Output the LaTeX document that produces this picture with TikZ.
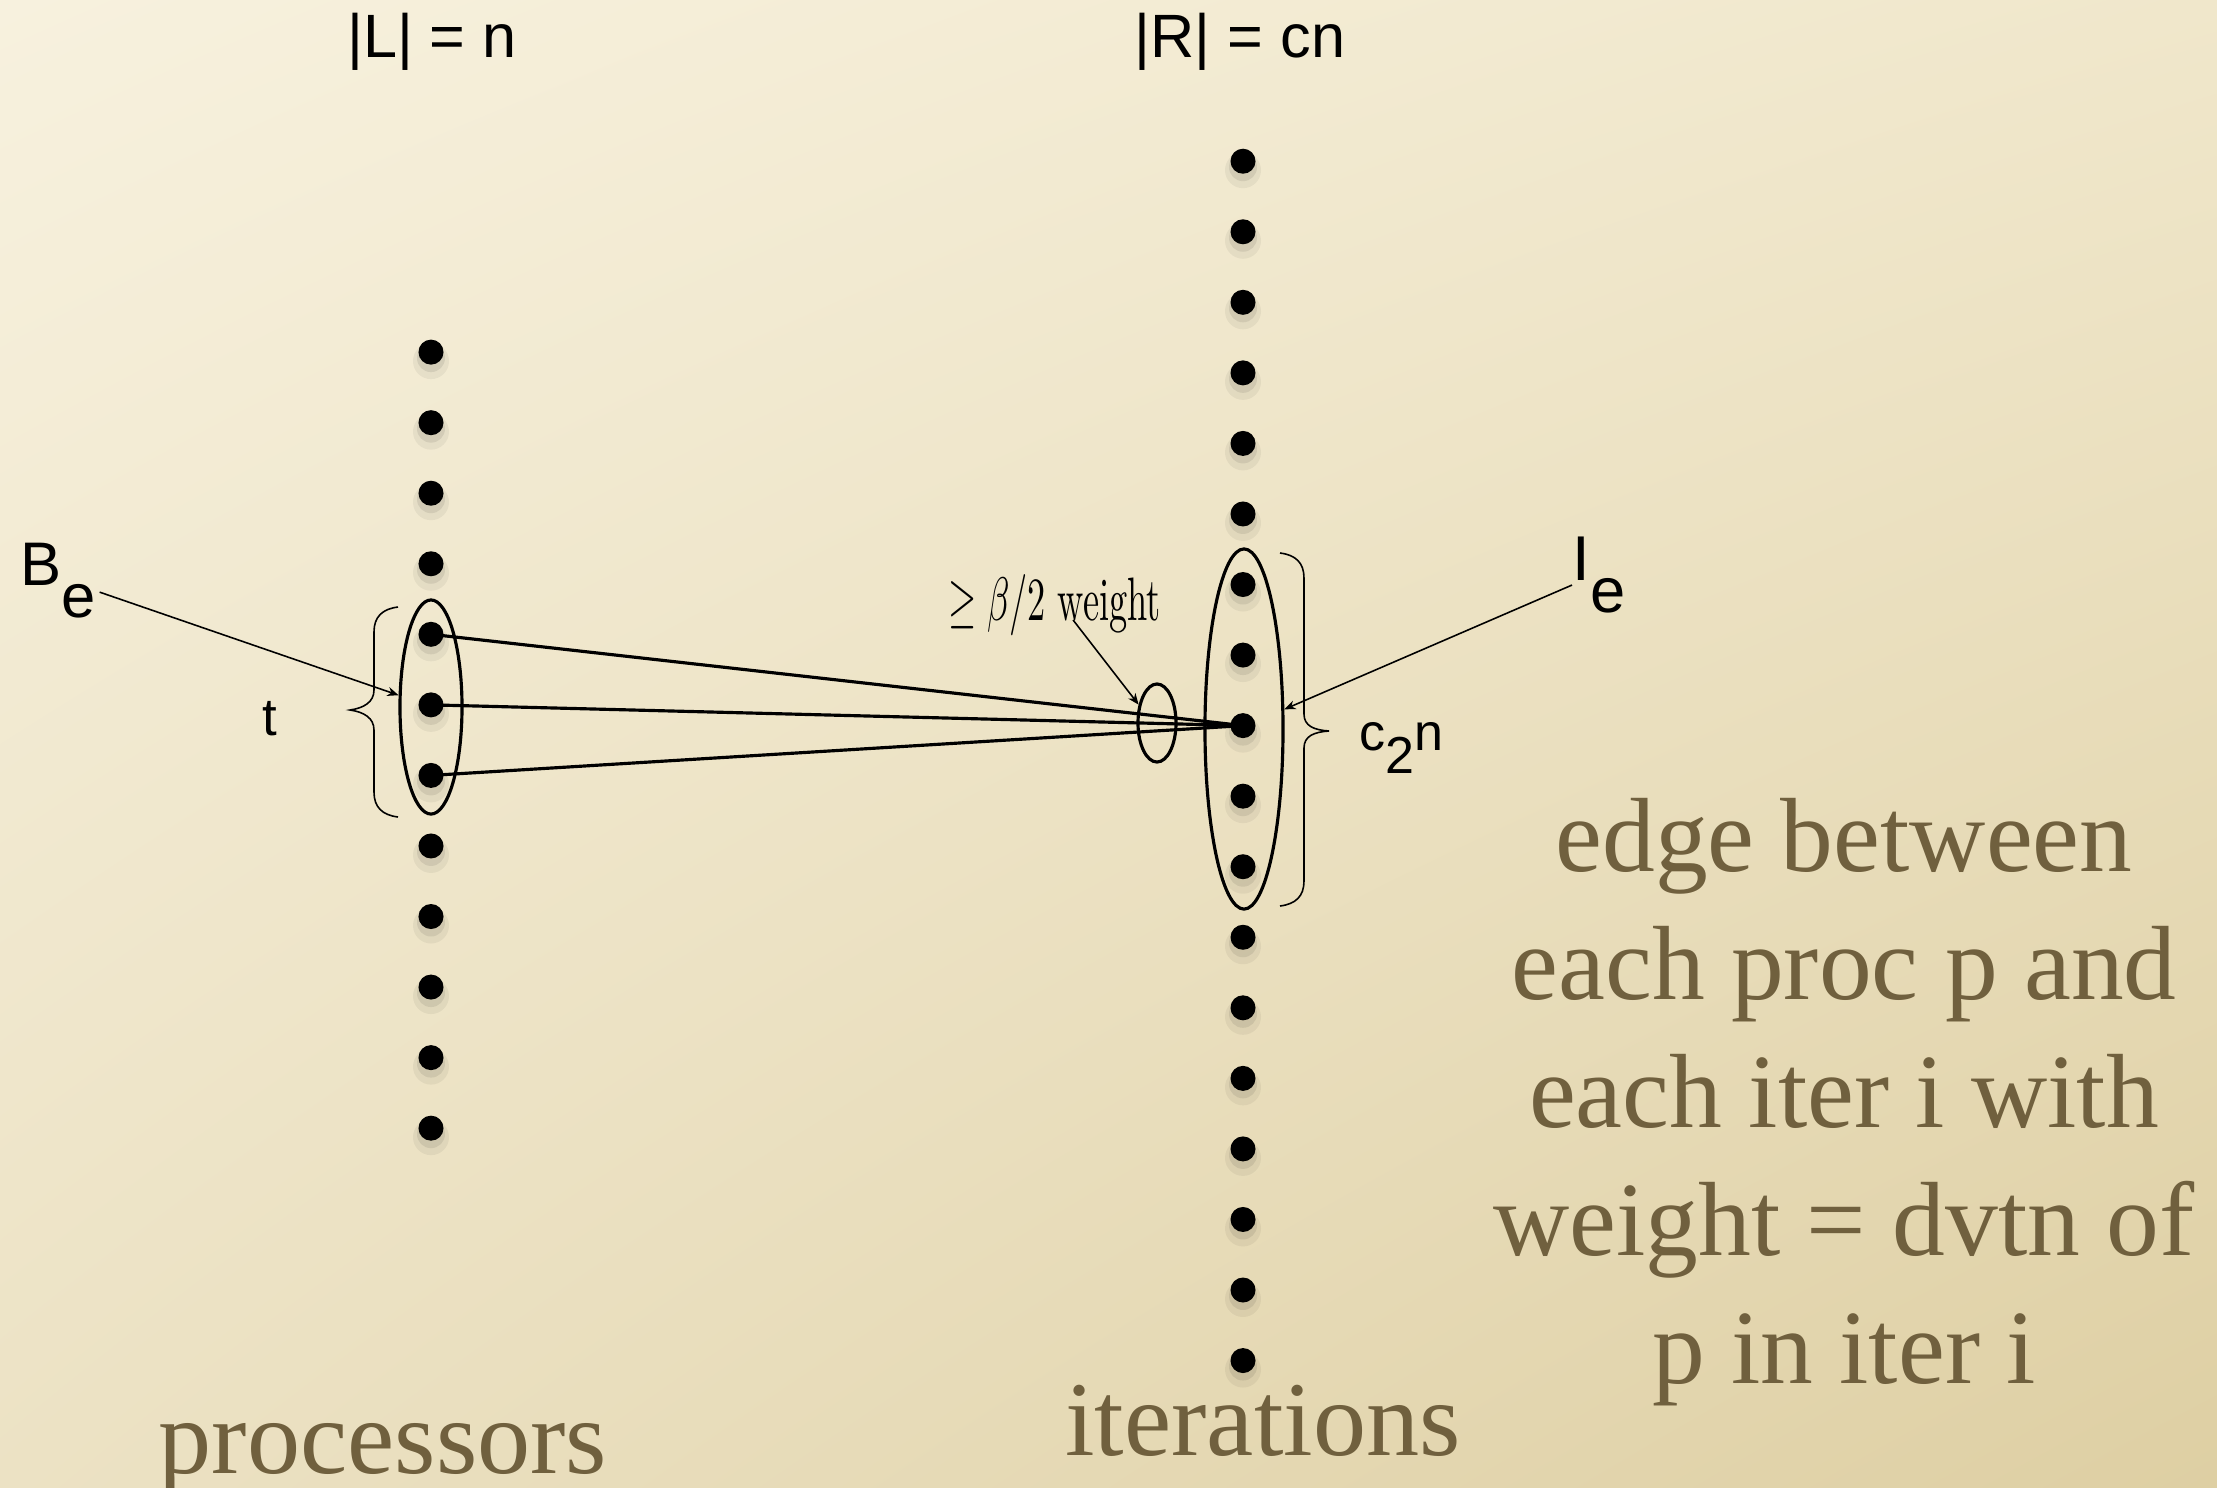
\documentclass[tikz,border=0pt]{standalone}
\usepackage{fontspec}
\usepackage{graphicx}
\newfontfamily\helv{Liberation Sans}
\newfontfamily\serifx{Liberation Serif}
\usetikzlibrary{arrows.meta,shapes.geometric,shadings}
\definecolor{bgUL}{RGB}{247,241,222}
\definecolor{bgUR}{RGB}{240,231,203}
\definecolor{bgLL}{RGB}{236,226,196}
\definecolor{bgLR}{RGB}{222,207,163}
\definecolor{txtolive}{RGB}{112,96,62}
\begin{document}
\begin{tikzpicture}[x=0.01cm,y=-0.01cm,
  dot/.style={circle,fill=black,inner sep=0,minimum size=0.25cm},
  grp/.style={ellipse,draw=black,line width=0.9pt,inner sep=0},
  lbl/.style={font=\helv\fontsize{17.4}{20}\selectfont,inner sep=0},
  edge/.style={line width=0.9pt},
  ptr/.style={line width=0.45pt,-{Stealth[length=3.2pt,width=2.6pt]}},
  brc/.style={line width=0.45pt},
  big/.style={text=txtolive,font=\serifx\fontsize{30}{36.4}\selectfont,inner sep=0}]
\useasboundingbox (0,0) rectangle (2217,1487);
\shade[upper left=bgUL,upper right=bgUR,lower left=bgLL,lower right=bgLR] (0,0) rectangle (2217,1487);

% dots
\foreach \i in {1,...,12}{
  \pgfmathsetmacro\yy{352.1+(\i-1)*70.55}
  \fill[black,opacity=0.05] (431,\yy+9) circle (18);
  \fill[black,opacity=0.08] (431,\yy+6) circle (14);
  \node[dot] (L\i) at (431,\yy) {};
}
\foreach \i in {1,...,18}{
  \pgfmathsetmacro\yy{161.2+(\i-1)*70.55}
  \fill[black,opacity=0.05] (1243,\yy+9) circle (18);
  \fill[black,opacity=0.08] (1243,\yy+6) circle (14);
  \node[dot] (R\i) at (1243,\yy) {};
}

% groups
\node[grp,minimum width=0.62cm,minimum height=2.14cm] (Lell) at (431,707) {};
\node[grp,minimum width=0.78cm,minimum height=3.6cm] (Rell) at (1244,729) {};
\node[grp,minimum width=0.38cm,minimum height=0.78cm] (Sell) at (1157,723) {};

% edges
\draw[edge] (L5.center) -- (R9.center);
\draw[edge] (L6.center) -- (R9.center);
\draw[edge] (L7.center) -- (R9.center);

% braces
\draw[brc] (398,607) .. controls (382,609) and (374,617) .. (374,632) -- (374,690)
  .. controls (374,702) and (364,708) .. (350,710)
  .. controls (364,712) and (374,718) .. (374,730) -- (374,792)
  .. controls (374,807) and (382,815) .. (398,817);
\draw[brc] (1280,553) .. controls (1296,555) and (1304,563) .. (1304,578) -- (1304,714)
  .. controls (1304,726) and (1314,730) .. (1329,731)
  .. controls (1314,732) and (1304,736) .. (1304,748) -- (1304,881)
  .. controls (1304,896) and (1296,904) .. (1280,906);

% labels
\node[lbl,anchor=base] (Lsz) at (432,57) {|L| = n};
\node[lbl,anchor=base] (Rsz) at (1240,57) {|R| = cn};
\node[lbl,font=\helv\fontsize{17.5}{20}\selectfont,anchor=base west] (Be) at (20,585) {B\raisebox{-0.32cm}{e}};
\node[lbl,font=\helv\fontsize{18}{20}\selectfont,anchor=base west] (Ie) at (1572,580) {I\raisebox{-0.32cm}{e}};
\node[lbl,font=\helv\fontsize{15}{18}\selectfont,anchor=base] (t) at (270,735) {t};
\node[lbl,font=\helv\fontsize{14.8}{18}\selectfont,anchor=base west] (c2n) at (1359,750) {c\raisebox{-0.23cm}{2}n};
\node[inner sep=0,anchor=base west] (W) at (948,620) {\resizebox{2.12cm}{0.46cm}{$\geq\beta/2$ weight}};

% pointers
\draw[ptr] ([xshift=0.03cm,yshift=-0.12cm]Be.east) -- (Lell.160);
\draw[ptr] ([yshift=-0.105cm]Ie.west) -- (Rell.26);
\draw[ptr] ([xshift=1.25cm]W.base west) -- (Sell.135);

% texts
\node[big,align=center,anchor=base] (desc) at (1844,1383) {edge between\\each proc p and\\each iter i with\\weight = dvtn of\\p in iter i};
\node[big,font=\serifx\fontsize{30.2}{36}\selectfont,anchor=base] (proc) at (383,1473) {processors};
\node[big,font=\serifx\fontsize{30.2}{36}\selectfont,anchor=base] (iter) at (1263,1455) {iterations};
\end{tikzpicture}
\end{document}
